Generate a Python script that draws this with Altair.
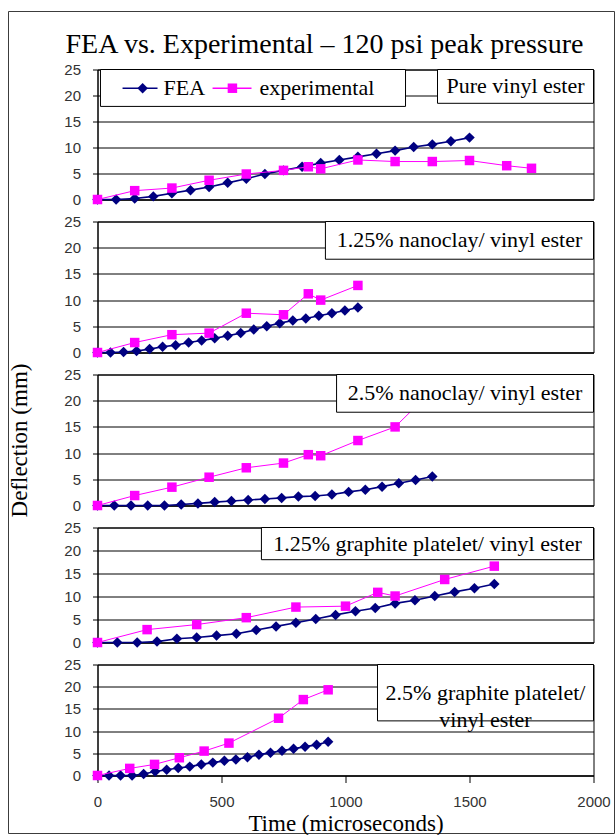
import altair as alt
import pandas as pd

TITLE = "FEA vs. Experimental \u2013 120 psi peak pressure"
X_TITLE = "Time (microseconds)"
Y_TITLE = "Deflection (mm)"
SERIES = ["FEA", "experimental"]
X_TICKS = [0, 500, 1000, 1500, 2000]
Y_TICKS = [0, 5, 10, 15, 20, 25]

PANEL_LABELS = [
    "Pure vinyl ester",
    "1.25% nanoclay/ vinyl ester",
    "2.5% nanoclay/ vinyl ester",
    "1.25% graphite platelet/ vinyl ester",
    "2.5% graphite platelet/\nvinyl ester",
]

# Panel 1: pure vinyl ester
fea1_t = [0, 75, 150, 225, 300, 375, 450, 525, 600, 675, 750, 825, 900, 975, 1050, 1125, 1200, 1275, 1350, 1425, 1500]
fea1_y = [0, 0, 0.2, 0.6, 1.2, 1.8, 2.4, 3.2, 4.0, 4.9, 5.6, 6.3, 7.0, 7.6, 8.2, 8.8, 9.4, 10.1, 10.6, 11.2, 11.9]
exp1_t = [0, 150, 300, 450, 600, 750, 850, 900, 1050, 1200, 1350, 1500, 1650, 1750]
exp1_y = [0, 1.7, 2.2, 3.7, 4.9, 5.6, 6.3, 5.9, 7.6, 7.3, 7.3, 7.5, 6.5, 6.0]

# Panel 2: 1.25% nanoclay
fea2_t = [0, 52.5, 105, 157.5, 210, 262.5, 315, 367.5, 420, 472.5, 525, 577.5, 630, 682.5, 735, 787.5, 840, 892.5, 945, 997.5, 1050]
fea2_y = [0, 0, 0.1, 0.3, 0.65, 1.1, 1.4, 1.9, 2.3, 2.7, 3.2, 3.7, 4.4, 5.0, 5.6, 6.1, 6.5, 7.0, 7.5, 8.0, 8.6]
exp2_t = [0, 150, 300, 450, 600, 750, 850, 900, 1050]
exp2_y = [0, 1.9, 3.4, 3.7, 7.5, 7.2, 11.2, 10.0, 12.8]

# Panel 3: 2.5% nanoclay
fea3_t = [0, 67.5, 135, 202.5, 270, 337.5, 405, 472.5, 540, 607.5, 675, 742.5, 810, 877.5, 945, 1012.5, 1080, 1147.5, 1215, 1282.5, 1350]
fea3_y = [0, 0, 0, 0, 0, 0.2, 0.4, 0.65, 0.85, 1.05, 1.25, 1.45, 1.7, 1.8, 2.1, 2.6, 3.0, 3.6, 4.25, 4.85, 5.55]
exp3_t = [0, 150, 300, 450, 600, 750, 850, 900, 1050, 1200, 1350]
exp3_y = [0, 1.9, 3.5, 5.4, 7.2, 8.1, 9.7, 9.5, 12.4, 15.0, 22.0]

# Panel 4: 1.25% graphite platelet
fea4_t = [0, 80, 160, 240, 320, 400, 480, 560, 640, 720, 800, 880, 960, 1040, 1120, 1200, 1280, 1360, 1440, 1520, 1600]
fea4_y = [0, 0, 0, 0.2, 0.8, 1.1, 1.5, 1.9, 2.7, 3.5, 4.3, 5.1, 6.0, 6.8, 7.5, 8.5, 9.2, 10.1, 11.0, 11.8, 12.7]
exp4_t = [0, 200, 400, 600, 800, 1000, 1130, 1200, 1400, 1600]
exp4_y = [0, 2.8, 3.9, 5.4, 7.7, 7.9, 10.9, 10.1, 13.7, 16.6]

# Panel 5: 2.5% graphite platelet
fea5_t = [0, 46.5, 93, 139.5, 186, 232.5, 279, 325.5, 372, 418.5, 465, 511.5, 558, 604.5, 651, 697.5, 744, 790.5, 837, 883.5, 930]
fea5_y = [0, 0, 0, 0, 0.35, 0.9, 1.3, 1.7, 2.0, 2.5, 2.9, 3.3, 3.6, 4.1, 4.7, 5.1, 5.6, 6.0, 6.5, 6.9, 7.6]
exp5_t = [0, 130, 230, 330, 430, 530, 730, 830, 930]
exp5_y = [0, 1.6, 2.5, 4.0, 5.5, 7.3, 12.9, 17.1, 19.3]

NAVY = "#000080"
MAGENTA = "#FF00FF"
SERIF = "Liberation Serif"
SANS = "Liberation Sans"

HEIGHTS = [130, 131, 131, 115, 111]
WIDTH = 496
BOX_LEFT = [1371, 919, 964, 661, 1129]
BOX_BOTTOM = [18.5, 17.8, 17.8, 18.0, 12.3]


def make_panel(idx, fea_t, fea_y, exp_t, exp_y):
    first = idx == 0
    last = idx == 4
    fea = pd.DataFrame({"t": fea_t, "d": fea_y})
    exp = pd.DataFrame({"t": exp_t, "d": exp_y})
    xscale = alt.Scale(domain=[0, 2000], nice=False, zero=False)
    yscale = alt.Scale(domain=[0, 25], nice=False)
    if last:
        xaxis = alt.Axis(title=X_TITLE, values=X_TICKS, format="d", labelFlush=False, ticks=True,
                         tickSize=7, labelPadding=12, titlePadding=3, grid=False)
    else:
        xaxis = alt.Axis(title=None, labels=False, ticks=False, grid=False)
    if idx == 2:
        yaxis = alt.Axis(title=Y_TITLE, values=Y_TICKS, grid=True, tickSize=5,
                         labelPadding=12, titlePadding=32)
    else:
        yaxis = alt.Axis(title=None, values=Y_TICKS, grid=True, tickSize=5, labelPadding=12)
    X = alt.X("t:Q", scale=xscale, axis=xaxis)
    Y = alt.Y("d:Q", scale=yscale, axis=yaxis)

    layers = [
        alt.Chart(fea).mark_line(color=NAVY, strokeWidth=1.6).encode(x=X, y=Y),
        alt.Chart(fea).mark_point(shape="diamond", filled=True, size=110, color=NAVY, opacity=1).encode(x=X, y=Y),
        alt.Chart(exp).mark_line(color=MAGENTA, strokeWidth=1).encode(x=X, y=Y),
        alt.Chart(exp).mark_point(shape="square", filled=True, size=90, color=MAGENTA, opacity=1).encode(x=X, y=Y),
    ]

    bl = BOX_LEFT[idx]
    bb = BOX_BOTTOM[idx]
    box = pd.DataFrame({"t": [bl], "t2": [2000], "d": [bb], "d2": [25]})
    layers.append(
        alt.Chart(box).mark_rect(fill="white", stroke="black", strokeWidth=1).encode(
            x=X, x2="t2:Q", y=Y, y2="d2:Q")
    )
    lab = pd.DataFrame({"t": [(bl + 2000) / 2], "d": [(bb + 25) / 2], "label": [PANEL_LABELS[idx]]})
    layers.append(
        alt.Chart(lab).mark_text(font=SERIF, fontSize=22, color="black", align="center",
                                 baseline="middle", lineBreak="\n", lineHeight=27).encode(
            x=X, y=Y, text="label:N")
    )

    if first:
        leg_box = pd.DataFrame({"t": [12], "t2": [1242], "d": [17.9], "d2": [25]})
        layers.append(
            alt.Chart(leg_box).mark_rect(fill="white", stroke="black", strokeWidth=1).encode(
                x=X, x2="t2:Q", y=Y, y2="d2:Q")
        )
        leg = pd.DataFrame({
            "series": SERIES,
            "t": [101, 464], "t2": [242, 621], "mid": [182, 544], "tx": [266, 653],
            "d": [21.4, 21.4],
        })
        cscale = alt.Scale(domain=SERIES, range=[NAVY, MAGENTA])
        sscale = alt.Scale(domain=SERIES, range=["diamond", "square"])
        zscale = alt.Scale(domain=SERIES, range=[110, 90])
        layers.append(
            alt.Chart(leg).mark_rule(strokeWidth=1.5).encode(
                x=X, x2="t2:Q", y=Y, color=alt.Color("series:N", scale=cscale, legend=None))
        )
        layers.append(
            alt.Chart(leg).mark_point(filled=True, opacity=1).encode(
                x=alt.X("mid:Q", scale=xscale, axis=xaxis), y=Y,
                color=alt.Color("series:N", scale=cscale, legend=None),
                shape=alt.Shape("series:N", scale=sscale, legend=None),
                size=alt.Size("series:N", scale=zscale, legend=None))
        )
        layers.append(
            alt.Chart(leg).mark_text(font=SERIF, fontSize=22, color="black", align="left",
                                     baseline="middle").encode(
                x=alt.X("tx:Q", scale=xscale, axis=xaxis), y=Y, text="series:N")
        )
        ttl = pd.DataFrame({"label": [TITLE]})
        layers.append(
            alt.Chart(ttl).mark_text(font=SERIF, fontSize=28, color="black", align="center",
                                     baseline="alphabetic").encode(
                x=alt.value(227), y=alt.value(-17), text="label:N")
        )
        frame = pd.DataFrame({"k": [0]})
        layers.append(
            alt.Chart(frame).mark_rect(fillOpacity=0, stroke="#3c3c3c", strokeWidth=1).encode(
                x=alt.value(-89), x2=alt.value(517), y=alt.value(-58), y2=alt.value(764))
        )

    return alt.layer(*layers).properties(width=WIDTH, height=HEIGHTS[idx])


panels = [
    make_panel(0, fea1_t, fea1_y, exp1_t, exp1_y),
    make_panel(1, fea2_t, fea2_y, exp2_t, exp2_y),
    make_panel(2, fea3_t, fea3_y, exp3_t, exp3_y),
    make_panel(3, fea4_t, fea4_y, exp4_t, exp4_y),
    make_panel(4, fea5_t, fea5_y, exp5_t, exp5_y),
]

chart = alt.vconcat(*panels, spacing=22, bounds="flush").properties(
    padding={"left": 7.5, "top": 10.5, "right": 0, "bottom": 0},
    background="white",
).configure_view(
    stroke="black", strokeWidth=1
).configure_axis(
    domainColor="black", tickColor="black", gridColor="black", gridWidth=1,
    labelColor="#333333", labelFont=SANS, labelFontSize=15,
    titleFont=SERIF, titleFontSize=23, titleFontWeight="normal", titleColor="black",
)

chart.save("out.html", embed_options={"renderer": "svg", "actions": False})
